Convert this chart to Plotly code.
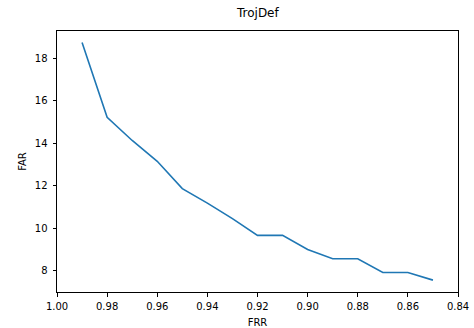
import plotly.graph_objects as go

# FRR / FAR trade-off for TrojDef
frr = [0.99, 0.98, 0.97, 0.96, 0.95, 0.94, 0.93, 0.92, 0.91, 0.90, 0.89, 0.88, 0.87, 0.86, 0.85]
far = [18.75, 15.22, 14.13, 13.15, 11.86, 11.18, 10.45, 9.66, 9.66, 8.99, 8.56, 8.56, 7.91, 7.91, 7.55]

x_ticks = [1.00, 0.98, 0.96, 0.94, 0.92, 0.90, 0.88, 0.86, 0.84]
y_ticks = [8, 10, 12, 14, 16, 18]

font_family = "DejaVu Sans"

fig = go.Figure()
fig.add_trace(go.Scatter(
    x=frr, y=far, mode="lines",
    line=dict(color="#1f77b4", width=1.6),
    showlegend=False,
))

axis_common = dict(
    showline=True, linecolor="black", linewidth=1, mirror=True,
    ticks="outside", ticklen=3.5, tickwidth=0.8, tickcolor="black",
    showgrid=False, zeroline=False, automargin=False,
    tickfont=dict(family=font_family, size=10, color="black"),
)

fig.update_layout(
    width=474, height=328,
    margin=dict(l=57, r=16, t=31, b=36),
    paper_bgcolor="white", plot_bgcolor="white",
    title=dict(text="TrojDef", x=0.544, xanchor="center", y=0.96, yanchor="middle",
               font=dict(family=font_family, size=12, color="black")),
    xaxis=dict(
        range=[1.00, 0.84], tickvals=x_ticks, ticktext=[f"{v:.2f}" for v in x_ticks],
        ticklabelstandoff=1,
        title=dict(text="FRR", font=dict(family=font_family, size=10, color="black"), standoff=9),
        **axis_common,
    ),
    yaxis=dict(
        range=[6.99, 19.29], tickvals=y_ticks, ticktext=[str(v) for v in y_ticks],
        ticklabelstandoff=3,
        title=dict(text="FAR", font=dict(family=font_family, size=10, color="black"), standoff=6),
        **axis_common,
    ),
)

fig.write_html("out.html")
